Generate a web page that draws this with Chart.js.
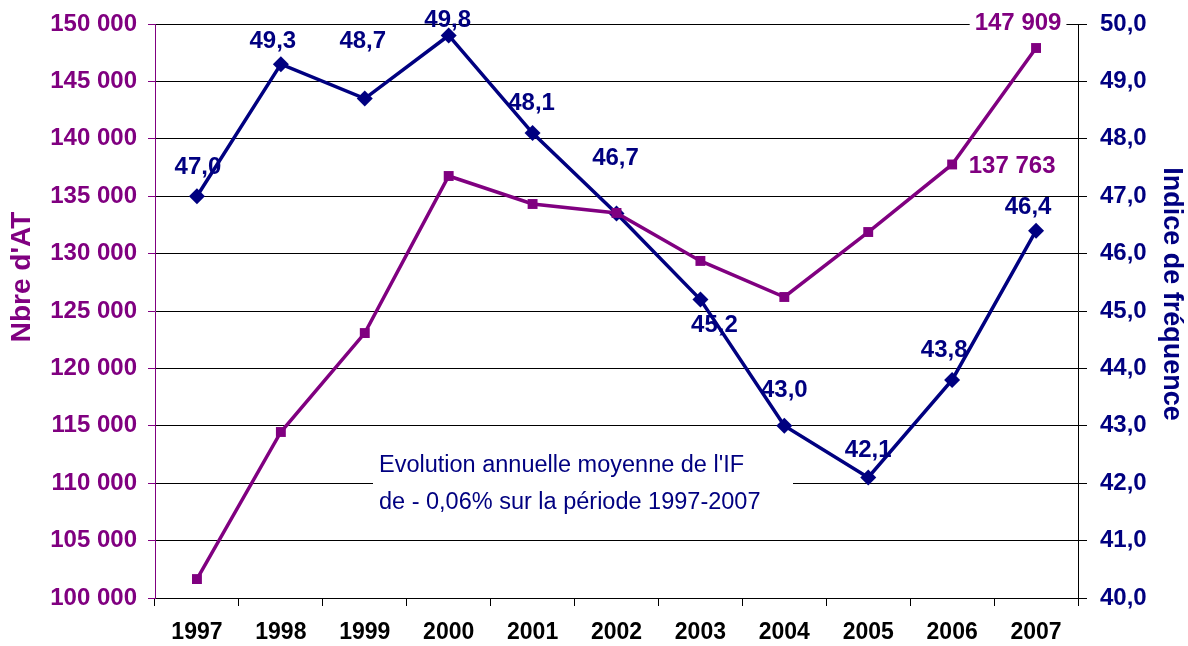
<!DOCTYPE html>
<html>
<head>
<meta charset="utf-8">
<script src="https://cdn.jsdelivr.net/npm/chart.js@4/dist/chart.umd.min.js"></script>
<style>
  html, body { margin: 0; padding: 0; background: #fff; }
  #wrap { width: 1188px; height: 646px; position: relative; }
</style>
</head>
<body>
<div id="wrap"><canvas id="chart" width="1188" height="646"></canvas></div>
<script>
const years = ['1997', '1998', '1999', '2000', '2001', '2002', '2003', '2004', '2005', '2006', '2007'];
const nbreAT = [101650, 114460, 123080, 136760, 134320, 133540, 129360, 126220, 131880, 137763, 147909];
const indiceFreq = [47.0, 49.3, 48.7, 49.8, 48.1, 46.7, 45.2, 43.0, 42.1, 43.8, 46.4];
const atLabelled = [false, false, false, false, false, false, false, false, false, true, true];
const noteLines = ["Evolution annuelle moyenne de l'IF", "de - 0,06% sur la période 1997-2007"];

const PURPLE = '#800080';
const NAVY = '#000080';
const FONT = '"Liberation Sans", Arial, sans-serif';

// where each label sits relative to its point (styling only)
const freqLabelOffset = [[1, -29], [-8, -23], [-2, -57], [-1, -15], [-1, -30], [-1, -55], [14, 26], [0, -35], [0, -27], [-8, -30], [-8, -23]];
const atLabelOffset = [null, null, null, null, null, null, null, null, null, [60, 2], [-18, -25]];

const fmt = v => String(Math.round(v)).replace(/\B(?=(\d{3})+(?!\d))/g, ' ');
const fmt1 = v => v.toFixed(1).replace('.', ',');

const labelsPlugin = {
    id: 'labels',
    beforeDatasetsDraw(chart) {
        // white note box sits over the grid
        const ctx = chart.ctx;
        ctx.save();
        ctx.fillStyle = '#fff';
        ctx.fillRect(373, 440, 420, 86);
        ctx.fillStyle = NAVY;
        ctx.font = '23.5px ' + FONT;
        ctx.textBaseline = 'middle';
        ctx.textAlign = 'left';
        ctx.fillText(noteLines[0], 379, 466);
        ctx.fillText(noteLines[1], 379, 503);
        ctx.restore();
    },
    afterDatasetsDraw(chart) {
        const ctx = chart.ctx;
        ctx.save();
        ctx.font = 'bold 24px ' + FONT;
        ctx.textAlign = 'center';
        ctx.textBaseline = 'middle';
        const at = chart.getDatasetMeta(0).data;
        at.forEach((p, i) => {
            if (!atLabelled[i]) return;
            const [dx, dy] = atLabelOffset[i];
            const txt = fmt(nbreAT[i]);
            const w = ctx.measureText(txt).width;
            ctx.fillStyle = '#fff';
            ctx.fillRect(p.x + dx - w / 2 - 5, p.y + dy - 12, w + 10, 24);
            ctx.fillStyle = PURPLE;
            ctx.fillText(txt, p.x + dx, p.y + dy);
        });
        const fq = chart.getDatasetMeta(1).data;
        ctx.fillStyle = NAVY;
        fq.forEach((p, i) => {
            const [dx, dy] = freqLabelOffset[i];
            ctx.fillText(fmt1(indiceFreq[i]), p.x + dx, p.y + dy);
        });
        // axis titles
        ctx.font = 'bold 28px ' + FONT;
        ctx.fillStyle = PURPLE;
        ctx.translate(22, 277);
        ctx.rotate(-Math.PI / 2);
        ctx.fillText("Nbre d'AT", 0, 0);
        ctx.restore();
        ctx.save();
        ctx.font = 'bold 27px ' + FONT;
        ctx.fillStyle = NAVY;
        ctx.textAlign = 'center';
        ctx.textBaseline = 'middle';
        ctx.translate(1171, 294);
        ctx.rotate(Math.PI / 2);
        ctx.fillText('Indice de fréquence', 0, 0);
        ctx.restore();
    }
};

new Chart(document.getElementById('chart'), {
    type: 'line',
    data: {
        labels: years,
        datasets: [
            {
                label: "Nbre d'AT",
                data: nbreAT,
                yAxisID: 'y',
                borderColor: PURPLE,
                backgroundColor: PURPLE,
                borderWidth: 3.5,
                pointStyle: 'rect',
                pointRadius: 7,
                pointBorderWidth: 0,
                tension: 0
            },
            {
                label: 'Indice de fréquence',
                data: indiceFreq,
                yAxisID: 'y1',
                borderColor: NAVY,
                backgroundColor: NAVY,
                borderWidth: 3.5,
                pointStyle: 'rectRot',
                pointRadius: 8,
                pointBorderWidth: 0,
                tension: 0
            }
        ]
    },
    options: {
        responsive: false,
        animation: false,
        devicePixelRatio: 1,
        layout: { padding: { top: 0, left: 0, right: 0, bottom: 0 } },
        plugins: { legend: { display: false }, tooltip: { enabled: false } },
        scales: {
            x: {
                offset: true,
                grid: { offset: true, drawOnChartArea: false, color: '#000', tickLength: 8 },
                border: { color: '#000', width: 1 },
                ticks: { color: '#000', autoSkip: false, maxRotation: 0, font: { family: FONT, size: 23, weight: 'bold' }, padding: 13 },
                afterFit: s => { s.height = 48; }
            },
            y: {
                position: 'left',
                min: 100000,
                max: 150000,
                grid: { color: '#000', lineWidth: 1, tickColor: PURPLE, tickLength: 7 },
                border: { color: PURPLE, width: 1 },
                ticks: {
                    stepSize: 5000,
                    autoSkip: false,
                    color: PURPLE,
                    padding: 11,
                    font: { family: FONT, size: 24, weight: 'bold', lineHeight: 1 },
                    callback: v => fmt(v)
                },
                afterFit: s => { s.width = 155; s.paddingTop = 24; }
            },
            y1: {
                position: 'right',
                min: 40,
                max: 50,
                grid: { drawOnChartArea: false, color: '#000', tickLength: 9 },
                border: { color: '#000', width: 1 },
                ticks: {
                    stepSize: 1,
                    autoSkip: false,
                    color: NAVY,
                    padding: 13,
                    font: { family: FONT, size: 24, weight: 'bold', lineHeight: 1 },
                    callback: v => fmt1(v)
                },
                afterFit: s => { s.width = 110; s.paddingTop = 24; }
            }
        }
    },
    plugins: [labelsPlugin]
});
</script>
</body>
</html>
